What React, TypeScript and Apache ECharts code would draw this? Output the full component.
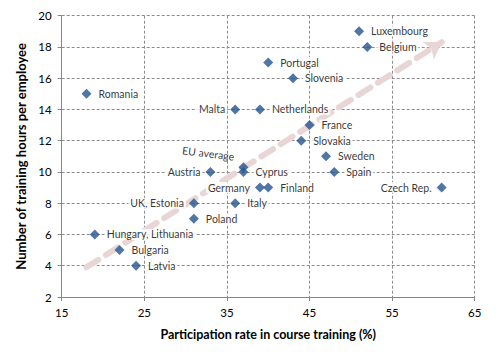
import React, { useEffect, useRef } from "react";
import * as echarts from "echarts";

const countries = [
  "Luxembourg", "Belgium", "Portugal", "Slovenia", "Romania", "Malta", "Netherlands",
  "France", "Slovakia", "Sweden", "Spain", "Cyprus", "EU average", "Austria", "Germany",
  "Finland", "Czech Rep.", "UK, Estonia", "Italy", "Poland", "Hungary, Lithuania",
  "Bulgaria", "Latvia",
];
const participation = [51, 52, 40, 43, 18, 36, 39, 45, 44, 47, 48, 37, 37, 33, 39, 40, 61, 31, 36, 31, 19, 22, 24];
const hours = [19, 18, 17, 16, 15, 14, 14, 13, 12, 11, 10, 10, 10.3, 10, 9, 9, 9, 8, 8, 7, 6, 5, 4];
const trendStart = [18, 3.9];
const trendEnd = [61, 18.3];
const xTicks = { min: 15, max: 65, interval: 10 };
const yTicks = { min: 2, max: 20, interval: 2 };

const leftLabels = ["Malta", "Austria", "UK, Estonia", "Germany", "Czech Rep."];
const FONT = "Lato, 'Liberation Sans', sans-serif";

export default function App() {
  const ref = useRef<HTMLDivElement>(null);
  useEffect(() => {
    const chart = echarts.init(ref.current!, null, { renderer: "svg" });
    const data = countries.map((name, i) => {
      const item: any = { name, value: [participation[i], hours[i]] };
      if (leftLabels.includes(name)) {
        item.label = { position: "left", distance: 3 };
      } else if (name === "EU average") {
        item.label = {
          position: "top", distance: 0, offset: [-36, 1], rotate: -7,
          backgroundColor: "transparent",
        };
      }
      return item;
    });
    chart.setOption({
      animation: false,
      grid: { left: 61.7, right: 22.3, top: 15.7, bottom: 61, containLabel: false },
      xAxis: {
        type: "value",
        min: xTicks.min, max: xTicks.max, interval: xTicks.interval,
        name: "Participation rate in course training (%)",
        nameLocation: "middle", nameGap: 31,
        nameTextStyle: { fontFamily: FONT, fontSize: 12.5, fontWeight: "bold", color: "#000" },
        axisLine: { lineStyle: { color: "#868686", width: 1 } },
        axisTick: { show: true, length: 4, lineStyle: { color: "#868686" } },
        axisLabel: { fontFamily: FONT, fontSize: 11.5, color: "#000", margin: 9 },
        splitLine: { show: true, lineStyle: { color: "#8c8c8c", type: [3, 2], width: 1 } },
      },
      yAxis: {
        type: "value",
        min: yTicks.min, max: yTicks.max, interval: yTicks.interval,
        name: "Number of training hours per employee",
        nameLocation: "middle", nameGap: 25,
        nameTextStyle: { fontFamily: FONT, fontSize: 13, fontWeight: "bold", color: "#000" },
        axisLine: { show: true, lineStyle: { color: "#868686", width: 1 } },
        axisTick: { show: true, length: 4, lineStyle: { color: "#868686" } },
        axisLabel: { fontFamily: FONT, fontSize: 11.5, color: "#000", margin: 10 },
        splitLine: { show: true, lineStyle: { color: "#8c8c8c", type: [3, 2], width: 1 } },
      },
      series: [
        {
          type: "scatter",
          data: [],
          z: 1,
          silent: true,
          markLine: {
            z: 1,
            silent: true,
            symbol: ["none", "arrow"],
            symbolSize: [16, 16],
            label: { show: false },
            lineStyle: { color: "#e8d6d6", width: 6, type: [14, 9], cap: "round", opacity: 1 },
            data: [[{ coord: trendStart }, { coord: trendEnd }]],
          },
        },
        {
          type: "scatter",
          z: 3,
          symbol: "diamond",
          symbolSize: 10,
          itemStyle: { color: "#24548f" },
          label: {
            show: true,
            formatter: "{b}",
            position: "right",
            distance: 5,
            padding: [0, 2],
            backgroundColor: "#fff",
            fontFamily: FONT,
            fontSize: 10.5,
            color: "#000",
          },
          data,
        },
      ],
    });
    return () => chart.dispose();
  }, []);
  return (
    <div
      ref={ref}
      style={{ position: "absolute", left: 0, top: 0, width: 497, height: 358 }}
    />
  );
}
